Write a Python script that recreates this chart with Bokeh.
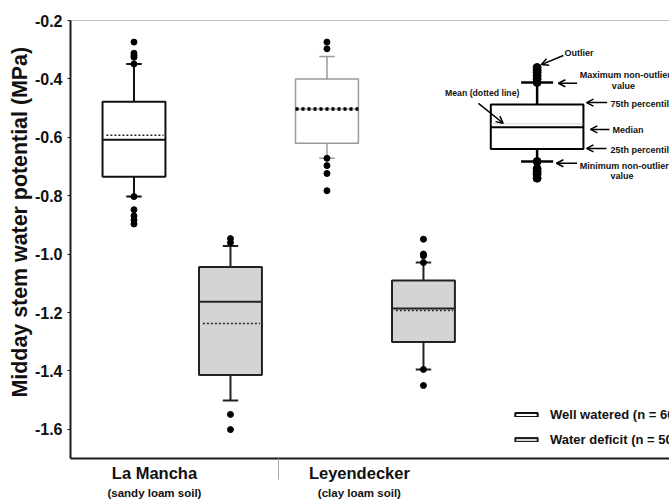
from bokeh.plotting import figure
from bokeh.models import (Range1d, LinearAxis, FixedTicker, Label, Arrow, OpenHead,
                          Legend, LegendItem, Title)
from bokeh.embed import file_html
from bokeh.resources import INLINE

# ---------------- data ----------------
sites = ["La Mancha", "Leyendecker"]
soils = ["(sandy loam soil)", "(clay loam soil)"]
treatments = ["Well watered (n = 60)", "Water deficit (n = 50)"]
y_title = "Midday stem water potential (MPa)"

# order: LM-WW, LM-WD, LEY-WW, LEY-WD
q3 = [-0.478, -1.044, -0.400, -1.090]
median = [-0.608, -1.163, -0.503, -1.186]
mean = [-0.593, -1.238, -0.503, -1.193]
q1 = [-0.735, -1.414, -0.620, -1.301]
whisk_hi = [-0.349, -0.972, -0.323, -1.029]
whisk_lo = [-0.803, -1.501, -0.672, -1.395]
outliers = [
    [-0.274, -0.312, -0.320, -0.326, -0.349, -0.803, -0.848, -0.869, -0.884, -0.897],
    [-0.947, -0.961, -1.549, -1.601],
    [-0.274, -0.297, -0.672, -0.697, -0.724, -0.783],
    [-0.949, -1.000, -1.006, -1.029, -1.395, -1.450],
]

# schematic key box (upper right)
key_q3, key_med, key_mean, key_q1 = -0.488, -0.566, -0.554, -0.640
key_hi, key_lo = -0.412, -0.683
key_out = [-0.361, -0.370, -0.378, -0.389, -0.400, -0.412, -0.683, -0.708, -0.718, -0.726, -0.740]

y_ticks = [-1.6, -1.4, -1.2, -1.0, -0.8, -0.6, -0.4, -0.2]
y_tick_labels = ["-1.6", "-1.4", "-1.2", "-1.0", "-0.8", "-0.6", "-0.4", "-0.2"]

# ---------------- layout ----------------
positions = [0.75, 1.25, 1.75, 2.25]
site_label_x = [0.856, 1.918]
separator_x = 1.5
box_half = 0.163
cap_half = 0.040
edge_colors = ["#111111", "#222222", "#9a9a9a", "#222222"]
fill_colors = ["white", "#d4d4d4", "white", "#d4d4d4"]
edge_widths = [2, 2, 1.5, 2]
FONT = "Liberation Sans"

p = figure(width=669, height=502, output_backend="svg", toolbar_location=None,
           x_range=Range1d(0.421, 3.525), y_range=Range1d(-1.7, -0.2),
           min_border_left=70, min_border_right=0, min_border_top=20, min_border_bottom=44,
           x_axis_location=None, y_axis_location=None)
p.outline_line_color = None
p.xgrid.visible = False
p.ygrid.visible = False
p.background_fill_color = "white"

# y axis
yax = LinearAxis(ticker=FixedTicker(ticks=y_ticks),
                 major_label_overrides={t: s for t, s in zip(y_ticks, y_tick_labels)})
yax.axis_line_width = 2
yax.axis_line_color = "#1a1a1a"
yax.major_tick_out = 3
yax.major_tick_in = 0
yax.minor_tick_line_color = None
yax.major_tick_line_color = "#1a1a1a"
yax.major_label_text_font = FONT
yax.major_label_text_font_style = "bold"
yax.major_label_text_font_size = "16px"
yax.major_label_text_color = "#111111"
yax.major_label_standoff = 5
p.add_layout(yax, "left")

ytitle = Title(text=y_title, align="left", offset=61, standoff=0,
               text_font=FONT, text_font_style="bold", text_font_size="21.4px",
               text_color="#111111")
p.add_layout(ytitle, "left")

# x axis: site names, separator as minor tick
xax = LinearAxis(ticker=FixedTicker(ticks=site_label_x, minor_ticks=[separator_x]),
                 major_label_overrides={x: s for x, s in zip(site_label_x, sites)})
xax.axis_line_width = 2
xax.axis_line_color = "#1a1a1a"
xax.major_tick_out = 0
xax.major_tick_in = 0
xax.major_tick_line_color = None
xax.minor_tick_out = 21
xax.minor_tick_in = 0
xax.minor_tick_line_color = "#aaaaaa"
xax.minor_tick_line_width = 1
xax.major_label_standoff = -16
xax.major_label_text_font = FONT
xax.major_label_text_font_style = "bold"
xax.major_label_text_font_size = "16.5px"
xax.major_label_text_color = "#111111"
p.add_layout(xax, "below")

xsub = LinearAxis(ticker=FixedTicker(ticks=site_label_x),
                  major_label_overrides={x: s for x, s in zip(site_label_x, soils)})
xsub.axis_line_color = None
xsub.major_tick_line_color = None
xsub.minor_tick_line_color = None
xsub.major_tick_out = 0
xsub.major_tick_in = 0
xsub.major_label_standoff = 2
xsub.major_label_text_font = FONT
xsub.major_label_text_font_style = "bold"
xsub.major_label_text_font_size = "11.5px"
xsub.major_label_text_color = "#111111"
p.add_layout(xsub, "below")

top = LinearAxis(ticker=FixedTicker(ticks=[]))
top.axis_line_color = "#c0c0c0"
top.axis_line_width = 1
top.major_tick_line_color = None
top.minor_tick_line_color = None
top.major_label_text_font_size = "1px"
p.add_layout(top, "above")

# boxes
renderers = []
for i, x in enumerate(positions):
    ec, fc, lw = edge_colors[i], fill_colors[i], edge_widths[i]
    p.segment(x0=[x, x], y0=[q3[i], q1[i]], x1=[x, x], y1=[whisk_hi[i], whisk_lo[i]],
              line_color=ec, line_width=lw)
    p.segment(x0=[x - cap_half] * 2, x1=[x + cap_half] * 2, y0=[whisk_hi[i], whisk_lo[i]],
              y1=[whisk_hi[i], whisk_lo[i]], line_color=ec, line_width=lw)
    r = p.quad(left=[x - box_half], right=[x + box_half], top=[q3[i]], bottom=[q1[i]],
               fill_color=fc, line_color=ec, line_width=lw)
    renderers.append(r)
    p.segment(x0=[x - box_half], x1=[x + box_half], y0=[median[i]], y1=[median[i]],
              line_color=ec, line_width=lw)
    if i == 2:
        p.segment(x0=[x - box_half], x1=[x + box_half], y0=[mean[i]], y1=[mean[i]],
                  line_color="black", line_width=3.5, line_dash="3 3")
    else:
        p.segment(x0=[x - box_half + 0.02], x1=[x + box_half - 0.01], y0=[mean[i]], y1=[mean[i]],
                  line_color="#222222", line_width=1.5, line_dash="2 2")
    p.scatter(x=[x] * len(outliers[i]), y=outliers[i], size=6, color="black")

# schematic key
kx = 2.839
kb = 0.240
kc = 0.083
p.segment(x0=[kx, kx], y0=[key_q3, key_q1], x1=[kx, kx], y1=[key_out[0], key_out[-1]],
          line_color="black", line_width=2.5)
p.segment(x0=[kx - kc] * 2, x1=[kx + kc] * 2, y0=[key_hi, key_lo], y1=[key_hi, key_lo],
          line_color="black", line_width=2.5)
p.quad(left=[kx - kb], right=[kx + kb], top=[key_q3], bottom=[key_q1],
       fill_color="white", line_color="black", line_width=2)
p.segment(x0=[kx - kb], x1=[kx + kb], y0=[key_med], y1=[key_med], line_color="black", line_width=2)
p.segment(x0=[kx - kb], x1=[kx + kb], y0=[key_mean], y1=[key_mean],
          line_color="#aaaaaa", line_width=1, line_dash="1 1")
p.scatter(x=[kx] * len(key_out), y=key_out, size=8, color="black")

def txt(x, y, s, size, align="left"):
    p.add_layout(Label(x=x, y=y, text=s, text_font=FONT, text_font_style="bold",
                       text_font_size=size, text_align=align, text_baseline="middle",
                       text_color="#111111"))

def arrow(x0, y0, x1, y1):
    p.add_layout(Arrow(x_start=x0, y_start=y0, x_end=x1, y_end=y1, line_width=1.5,
                       line_color="black",
                       end=OpenHead(size=7, line_width=1.5, line_color="black")))

txt(2.981, -0.311, "Outlier", "9px")
arrow(2.975, -0.320, 2.861, -0.351)
txt(3.060, -0.388, "Maximum non-outlier", "9px")
txt(3.286, -0.423, "value", "9px", align="center")
arrow(3.046, -0.415, 2.949, -0.415)
txt(3.219, -0.485, "75th percentile", "9px")
arrow(3.202, -0.481, 3.095, -0.481)
txt(3.229, -0.576, "Median", "9px")
arrow(3.214, -0.573, 3.115, -0.573)
txt(3.219, -0.645, "25th percentile", "9px")
arrow(3.198, -0.638, 3.095, -0.638)
txt(3.060, -0.697, "Minimum non-outlier", "9px")
txt(3.279, -0.731, "value", "9px", align="center")
arrow(3.046, -0.689, 2.939, -0.689)
txt(2.747, -0.448, "Mean (dotted line)", "8.7px", align="right")
arrow(2.535, -0.484, 2.663, -0.552)

# legend
legend = Legend(items=[LegendItem(label=treatments[0], renderers=[renderers[0]]),
                       LegendItem(label=treatments[1], renderers=[renderers[1]])],
                location=(442, 9), glyph_width=28, glyph_height=5, label_height=20,
                spacing=5, padding=0, margin=0, label_standoff=10,
                border_line_color=None, background_fill_alpha=0)
legend.label_text_font = FONT
legend.label_text_font_style = "bold"
legend.label_text_font_size = "13px"
legend.label_text_color = "#111111"
p.add_layout(legend)

open("out.html", "w").write(file_html(p, INLINE))
